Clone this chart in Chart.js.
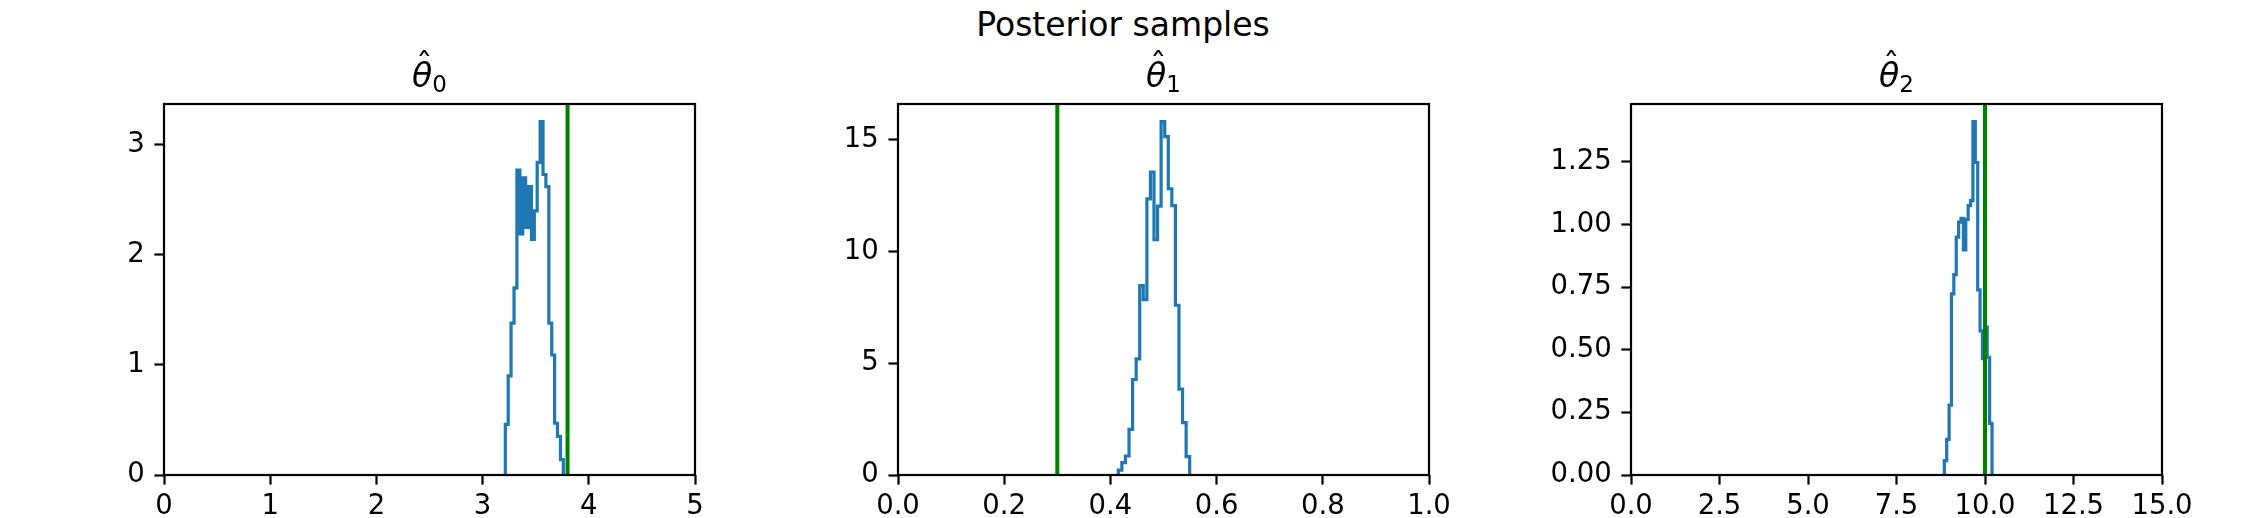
<!DOCTYPE html>
<html>
<head>
<meta charset="utf-8">
<script src="https://cdn.jsdelivr.net/npm/chart.js@4.4.1/dist/chart.umd.min.js"></script>
<style>
  html, body { margin: 0; padding: 0; background: #fff; }
  #fig { position: relative; width: 2246px; height: 518px; overflow: hidden; background: #fff; }
  #suptitle {
    position: absolute; left: 0; top: 8px; width: 2246px; text-align: center;
    font: 33px/33px "DejaVu Sans"; color: #000;
  }
  #fig canvas { position: absolute; top: 0; }
</style>
</head>
<body>
<div id="fig">
  <div id="suptitle">Posterior samples</div>
  <canvas id="panel0" width="706" height="518" style="left:34px"></canvas>
  <canvas id="panel1" width="706" height="518" style="left:768px"></canvas>
  <canvas id="panel2" width="706" height="518" style="left:1501px"></canvas>
</div>
<script>
// Posterior histograms (density, 20 bins each).

const THETA0_EDGES = [3.214, 3.241, 3.268, 3.296, 3.323, 3.351, 3.378, 3.405, 3.432, 3.460, 3.487,
  3.514, 3.542, 3.569, 3.596, 3.624, 3.651, 3.678, 3.705, 3.733, 3.760]
const THETA0_DENSITY = [0.46, 0.90, 1.38, 1.70, 2.77, 2.19, 2.70, 2.25, 2.62, 2.14,
  2.40, 2.84, 3.21, 2.73, 2.62, 1.38, 1.09, 0.47, 0.35, 0.14]
const THETA0_TRUE = 3.8

const THETA1_EDGES = [0.4149, 0.4216, 0.4283, 0.4351, 0.4418, 0.4485, 0.4552, 0.4619, 0.4687, 0.4754, 0.4821,
  0.4888, 0.4955, 0.5023, 0.5090, 0.5157, 0.5224, 0.5291, 0.5359, 0.5426, 0.5493]
const THETA1_DENSITY = [0.22, 0.55, 0.85, 2.04, 4.27, 5.19, 8.47, 7.84, 12.35, 13.54,
  10.52, 12.02, 15.80, 15.13, 12.80, 12.05, 7.59, 3.84, 2.34, 0.82]
const THETA1_TRUE = 0.3

const THETA2_EDGES = [8.851, 8.918, 8.986, 9.053, 9.120, 9.188, 9.255, 9.322, 9.390, 9.457, 9.524,
  9.592, 9.659, 9.726, 9.794, 9.861, 9.928, 9.996, 10.063, 10.130, 10.198]
const THETA2_DENSITY = [0.057, 0.142, 0.279, 0.723, 0.800, 0.949, 1.009, 1.024, 0.898, 1.020,
  1.075, 1.095, 1.410, 1.247, 0.739, 0.575, 0.464, 0.590, 0.469, 0.206]
const THETA2_TRUE = 10.0

const SUBSCRIPTS = ["0", "1", "2"]

const X_TICKS_0 = [0, 1, 2, 3, 4, 5]
const X_TICK_LABELS_0 = ["0", "1", "2", "3", "4", "5"]
const Y_TICKS_0 = [0, 1, 2, 3]
const Y_TICK_LABELS_0 = ["0", "1", "2", "3"]

const X_TICKS_1 = [0, 0.2, 0.4, 0.6, 0.8, 1.0]
const X_TICK_LABELS_1 = ["0.0", "0.2", "0.4", "0.6", "0.8", "1.0"]
const Y_TICKS_1 = [0, 5, 10, 15]
const Y_TICK_LABELS_1 = ["0", "5", "10", "15"]

const X_TICKS_2 = [0, 2.5, 5, 7.5, 10, 12.5, 15]
const X_TICK_LABELS_2 = ["0.0", "2.5", "5.0", "7.5", "10.0", "12.5", "15.0"]
const Y_TICKS_2 = [0, 0.25, 0.5, 0.75, 1.0, 1.25]
const Y_TICK_LABELS_2 = ["0.00", "0.25", "0.50", "0.75", "1.00", "1.25"]

// Look
const FONT = '"DejaVu Sans"'
const TICK_FONT_SIZE = 27.5
const TITLE_FONT_SIZE = 33
const SUB_FONT_SIZE = 23
const TITLE_BASELINE = 87
const HIST_COLOR = "#1f77b4"
const TRUE_COLOR = "#008000"
const SPINE_WIDTH = 2.2
const TICK_LENGTH = 9.6
const TICK_PAD = 9.6
const Y_AXIS_WIDTH = 130
const X_AXIS_HEIGHT = 43
const PLOT_TOP = 104
const PLOT_RIGHT_PAD = 45
const Y_MARGIN = 0.05

// Step outline of a histogram, like matplotlib's histtype="step".
function stepOutline(edges, values) {
  const pts = [{ x: edges[0], y: 0 }]
  values.forEach((v, i) => {
    pts.push({ x: edges[i], y: v }, { x: edges[i + 1], y: v })
  })
  pts.push({ x: edges[edges.length - 1], y: 0 })
  return pts
}

// Closed frame + mathtext-like title (hat theta with subscript).
function framePlugin(sub) {
  return {
    id: "frameAndTitle",
    afterDraw(chart) {
      const { ctx, chartArea: a } = chart
      ctx.save()
      ctx.strokeStyle = "#000"
      ctx.lineWidth = SPINE_WIDTH
      ctx.strokeRect(a.left, a.top, a.right - a.left, a.bottom - a.top)

      ctx.fillStyle = "#000"
      ctx.textBaseline = "alphabetic"
      ctx.font = `italic ${TITLE_FONT_SIZE}px ${FONT}`
      const wTheta = ctx.measureText("θ").width
      ctx.font = `${SUB_FONT_SIZE}px ${FONT}`
      const wSub = ctx.measureText(sub).width
      const x0 = (a.left + a.right) / 2 - (wTheta + wSub) / 2

      ctx.textAlign = "left"
      ctx.font = `italic ${TITLE_FONT_SIZE}px ${FONT}`
      ctx.fillText("θ", x0, TITLE_BASELINE)
      ctx.textAlign = "center"
      ctx.font = `${TITLE_FONT_SIZE}px ${FONT}`
      ctx.fillText("ˆ", x0 + wTheta / 2 + 2, TITLE_BASELINE - 10)
      ctx.textAlign = "left"
      ctx.font = `${SUB_FONT_SIZE}px ${FONT}`
      ctx.fillText(sub, x0 + wTheta, TITLE_BASELINE + 5)
      ctx.restore()
    }
  }
}

const AXIS_GRID = {
  drawOnChartArea: false,
  drawTicks: true,
  tickLength: TICK_LENGTH,
  tickWidth: SPINE_WIDTH,
  tickColor: "#000"
}

function drawPanel(canvasId, edges, density, truth, xTicks, xLabels, yTicks, yLabels, sub) {
  const xMin = xTicks[0]
  const xMax = xTicks[xTicks.length - 1]
  const yMax = Math.max(...density) * (1 + Y_MARGIN)

  new Chart(document.getElementById(canvasId).getContext("2d"), {
    type: "line",
    plugins: [framePlugin(sub)],
    data: {
      datasets: [
        {
          data: [{ x: truth, y: 0 }, { x: truth, y: yMax }],
          borderColor: TRUE_COLOR,
          borderWidth: 4,
          borderCapStyle: "butt",
          pointRadius: 0,
          fill: false,
          order: 0
        },
        {
          data: stepOutline(edges, density),
          borderColor: HIST_COLOR,
          borderWidth: 3.2,
          borderJoinStyle: "miter",
          borderCapStyle: "butt",
          pointRadius: 0,
          fill: false,
          order: 1
        }
      ]
    },
    options: {
      responsive: false,
      animation: false,
      layout: { padding: { top: PLOT_TOP, right: PLOT_RIGHT_PAD, left: 0, bottom: 0 } },
      plugins: { legend: false, tooltip: { enabled: false }, title: { display: false } },
      elements: { line: { tension: 0 } },
      scales: {
        x: {
          type: "linear",
          min: xMin,
          max: xMax,
          grid: { ...AXIS_GRID },
          border: { display: false },
          afterBuildTicks: (axis) => { axis.ticks = xTicks.map((v) => ({ value: v })) },
          afterFit: (axis) => { axis.height = X_AXIS_HEIGHT },
          ticks: {
            autoSkip: false,
            maxRotation: 0,
            padding: TICK_PAD - 4,
            color: "#000",
            font: { family: FONT, size: TICK_FONT_SIZE },
            callback: (val, i) => xLabels[i]
          }
        },
        y: {
          type: "linear",
          min: 0,
          max: yMax,
          grid: { ...AXIS_GRID },
          border: { display: false },
          afterBuildTicks: (axis) => { axis.ticks = yTicks.map((v) => ({ value: v })) },
          afterFit: (axis) => { axis.width = Y_AXIS_WIDTH },
          ticks: {
            autoSkip: false,
            padding: TICK_PAD,
            color: "#000",
            font: { family: FONT, size: TICK_FONT_SIZE },
            callback: (val, i) => yLabels[i]
          }
        }
      }
    }
  })
}

drawPanel("panel0", THETA0_EDGES, THETA0_DENSITY, THETA0_TRUE,
  X_TICKS_0, X_TICK_LABELS_0, Y_TICKS_0, Y_TICK_LABELS_0, SUBSCRIPTS[0])
drawPanel("panel1", THETA1_EDGES, THETA1_DENSITY, THETA1_TRUE,
  X_TICKS_1, X_TICK_LABELS_1, Y_TICKS_1, Y_TICK_LABELS_1, SUBSCRIPTS[1])
drawPanel("panel2", THETA2_EDGES, THETA2_DENSITY, THETA2_TRUE,
  X_TICKS_2, X_TICK_LABELS_2, Y_TICKS_2, Y_TICK_LABELS_2, SUBSCRIPTS[2])
</script>
</body>
</html>
